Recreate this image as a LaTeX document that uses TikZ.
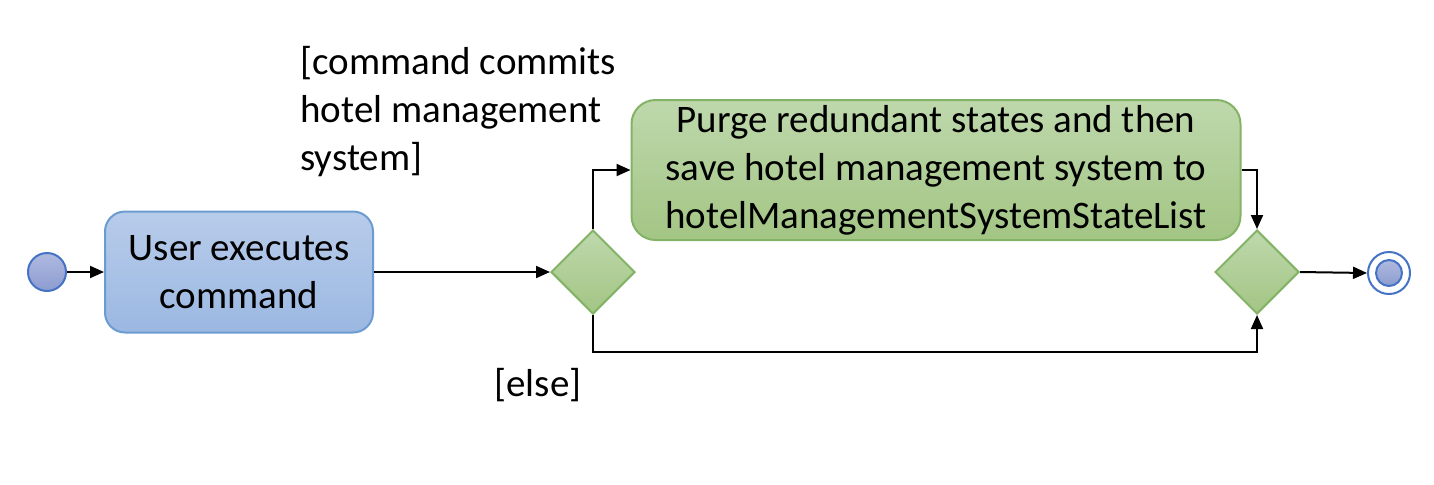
\documentclass[tikz,border=0pt]{standalone}
\usepackage{fontspec}
\setmainfont{Carlito}
\usetikzlibrary{shapes.geometric,arrows.meta}
\definecolor{blueTop}{RGB}{184,204,234}
\definecolor{blueBot}{RGB}{155,184,226}
\definecolor{blueLine}{RGB}{108,155,210}
\definecolor{greenTop}{RGB}{190,216,172}
\definecolor{greenBot}{RGB}{163,197,132}
\definecolor{greenLine}{RGB}{130,179,102}
\definecolor{dotTop}{RGB}{176,186,224}
\definecolor{dotBot}{RGB}{140,156,208}
\definecolor{ringBlue}{RGB}{68,114,196}

\begin{document}
\begin{tikzpicture}[x=0.5pt, y=-0.5pt,
    font=\fontsize{19.5}{24}\selectfont,
    activity/.style={draw=blueLine, line width=1pt, rounded corners=10pt,
        top color=blueTop, bottom color=blueBot, align=center,
        minimum width=134pt, minimum height=60.5pt, inner sep=0pt},
    purge/.style={draw=greenLine, line width=1pt, rounded corners=12pt,
        top color=greenTop, bottom color=greenBot, align=center,
        minimum width=304.5pt, minimum height=70pt, inner sep=0pt},
    branch/.style={diamond, draw=greenLine, line width=1pt, aspect=1,
        top color=greenTop, bottom color=greenBot,
        minimum width=42pt, minimum height=42pt, inner sep=0pt},
    flow/.style={line width=1pt, -{Triangle[length=7pt,width=6pt]}}]

    \useasboundingbox (0,0) rectangle (1434,484);

    % Start and end
    \node[circle, draw=ringBlue, line width=1pt, top color=dotTop, bottom color=dotBot,
        minimum size=19pt, inner sep=0pt] (start) at (47,272) {};
    \node[circle, draw=ringBlue, line width=1pt, fill=white,
        minimum size=21pt, inner sep=0pt] (final) at (1389,273) {};
    \node[circle, draw=ringBlue, line width=1pt, top color=dotTop, bottom color=dotBot,
        minimum size=13pt, inner sep=0pt] (finaldot) at (1389,273) {};

    % Activities
    \node[activity] (exec) at (239,272) {User executes\\command};
    \node[purge] (save) at (936,170) {Purge redundant states and then\\save hotel management system to\\hotelManagementSystemStateList};

    % Decision and merge
    \node[branch] (decide) at (593,272) {};
    \node[branch] (merge) at (1257,272) {};

    % Guards
    \node[anchor=west, align=left, inner sep=0pt] (commitGuard) at (300,112) {[command commits\\hotel management\\system]};
    \node[inner sep=0pt] (elseGuard) at (538,385) {[else]};

    % Connectors
    \coordinate (elseBend) at (593,352);
    \draw[flow] (start) -- (exec);
    \draw[flow] (exec.east) -- (decide.west);
    \draw[flow] (decide.north) |- (save.west);
    \draw[flow] (save.east) -| (merge.north);
    \draw[flow] (decide.south) -- (elseBend) -| (merge.south);
    \draw[flow] (merge.east) -- (final.west);
\end{tikzpicture}
\end{document}
